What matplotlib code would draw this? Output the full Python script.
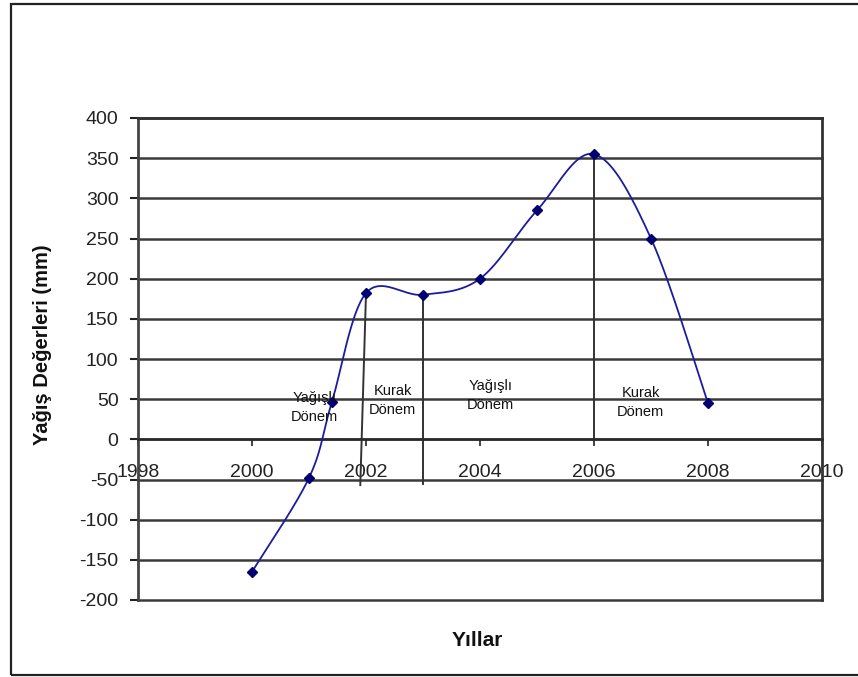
import numpy as np
import matplotlib
matplotlib.use("Agg")
import matplotlib.pyplot as plt
from matplotlib.patches import Rectangle

years = [2000, 2001, 2001.4, 2002, 2003, 2004, 2005, 2006, 2007, 2008]
rain = [-165, -48, 46, 182, 180, 200, 285, 355, 250, 45]

# vertical period separators: (x_top, y_top, x_bottom, y_bottom)
sep_x_top = [2002, 2003, 2006]
sep_y_top = [182, 180, 355]
sep_x_bot = [2001.9, 2003, 2006]
sep_y_bot = [-57, -55, 0]

labels = ["Yağışlı\nDönem", "Kurak\nDönem", "Yağışlı\nDönem", "Kurak\nDönem"]
label_x = [2001.1, 2002.47, 2004.19, 2006.82]
label_y = [40, 48, 55, 46]

xticks = [1998, 2000, 2002, 2004, 2006, 2008, 2010]
yticks = list(range(-200, 401, 50))

plt.rcParams['font.family'] = ['Liberation Sans', 'DejaVu Sans']


def smooth(xs, ys, n=40):
    P = np.column_stack([xs, ys]).astype(float)
    out = []
    for i in range(len(P) - 1):
        p0 = P[i - 1] if i > 0 else P[i]
        p1 = P[i]
        p2 = P[i + 1]
        p3 = P[i + 2] if i + 2 < len(P) else P[i + 1]
        c1 = p1 + (p2 - p0) / 6.0
        c2 = p2 - (p3 - p1) / 6.0
        t = np.linspace(0, 1, n)[:, None]
        seg = ((1 - t) ** 3) * p1 + 3 * ((1 - t) ** 2) * t * c1 + 3 * (1 - t) * t ** 2 * c2 + t ** 3 * p2
        out.append(seg if i == 0 else seg[1:])
    s = np.vstack(out)
    return s[:, 0], s[:, 1]


fig = plt.figure(figsize=(8.58, 6.77), dpi=100)
fig.patches.append(Rectangle((11 / 858, 1 - 675 / 677), 1.0, (675 - 4) / 677,
                             transform=fig.transFigure, fill=False,
                             edgecolor='#222222', linewidth=1.6))
ax = fig.add_axes([138 / 858, 1 - 600 / 677, (822 - 138) / 858, (600 - 118) / 677])

ax.set_xlim(1998, 2010)
ax.set_ylim(-200, 400)

for yv in yticks:
    ax.axhline(yv, color='#3a3a3a', linewidth=1.8, zorder=1, clip_on=False)

sx, sy = smooth(years, rain)
ax.plot(sx, sy, color='#1c1c9c', linewidth=1.3, zorder=3)
ax.plot(years, rain, linestyle='none', marker='D', markersize=5.2,
        color='#000070', zorder=4)

for xt, yt, xb, yb in zip(sep_x_top, sep_y_top, sep_x_bot, sep_y_bot):
    ax.plot([xt, xb], [yt, yb], color='#333333', linewidth=1.4, zorder=2)

for t, x, y in zip(labels, label_x, label_y):
    ax.text(x, y, t, ha='center', va='center', fontsize=10.5,
            linespacing=1.45, color='#111111', zorder=5)

ax.spines['bottom'].set_position(('data', 0))
ax.spines['bottom'].set_color('#2a2a2a')
ax.spines['bottom'].set_linewidth(1.8)
ax.spines['left'].set_color('#444444')
ax.spines['left'].set_linewidth(2.0)
ax.spines['top'].set_color('#333333')
ax.spines['top'].set_linewidth(2.0)
ax.spines['right'].set_color('#333333')
ax.spines['right'].set_linewidth(2.0)

ax.set_xticks(xticks)
ax.set_xticklabels([str(v) for v in xticks])
ax.set_yticks(yticks)
ax.set_yticklabels([str(v) for v in yticks])
ax.tick_params(axis='x', direction='out', length=5, width=1.2, pad=13,
               labelsize=14, colors='#222222')
ax.tick_params(axis='y', direction='out', length=6, width=1.5, pad=8,
               labelsize=14, colors='#222222')

fig.text(477 / 858, 1 - 640 / 677, 'Yıllar', ha='center', va='center',
         fontsize=15, fontweight='bold', color='#111111')
fig.text(43 / 858, 1 - 345 / 677, 'Yağış Değerleri (mm)', ha='center', va='center',
         rotation=90, fontsize=14.5, fontweight='bold', color='#111111')

fig.savefig('out.png', dpi=100)
